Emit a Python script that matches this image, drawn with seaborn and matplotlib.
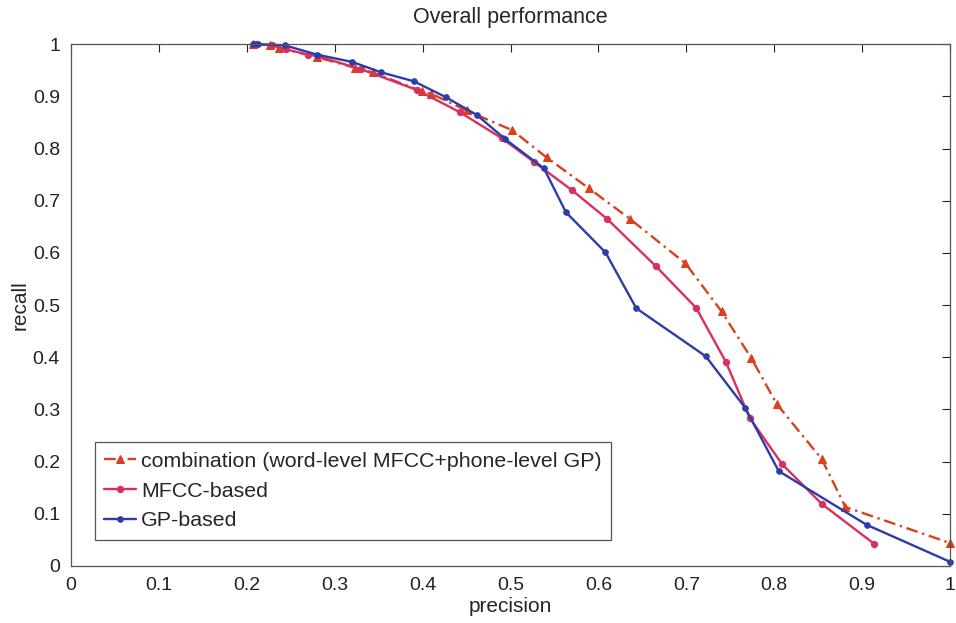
import numpy as np
import pandas as pd
import matplotlib
matplotlib.use("Agg")
import matplotlib.pyplot as plt
import seaborn as sns

# precision / recall
comb_x = [0.207, 0.226, 0.237, 0.280, 0.323, 0.343, 0.399, 0.410, 0.450, 0.502,
          0.541, 0.589, 0.636, 0.699, 0.740, 0.774, 0.803, 0.854, 0.881, 1.0]
comb_y = [1.0, 0.998, 0.993, 0.975, 0.955, 0.946, 0.910, 0.905, 0.873, 0.835,
          0.783, 0.724, 0.665, 0.580, 0.488, 0.398, 0.310, 0.205, 0.113, 0.044]

mfcc_x = [0.210, 0.229, 0.245, 0.270, 0.281, 0.330, 0.394, 0.442, 0.490, 0.527,
          0.570, 0.610, 0.665, 0.711, 0.745, 0.772, 0.809, 0.854, 0.914]
mfcc_y = [1.0, 0.998, 0.990, 0.980, 0.977, 0.952, 0.912, 0.870, 0.820, 0.774,
          0.720, 0.665, 0.575, 0.495, 0.391, 0.284, 0.195, 0.119, 0.042]

gp_x = [0.207, 0.213, 0.243, 0.280, 0.320, 0.353, 0.390, 0.427, 0.462, 0.494,
        0.538, 0.563, 0.608, 0.643, 0.722, 0.767, 0.805, 0.905, 1.0]
gp_y = [1.0, 1.0, 0.998, 0.980, 0.966, 0.946, 0.929, 0.898, 0.864, 0.818,
        0.762, 0.678, 0.601, 0.494, 0.402, 0.303, 0.182, 0.079, 0.008]

labels = ["combination (word-level MFCC+phone-level GP)", "MFCC-based", "GP-based"]
ticks = [0, 0.1, 0.2, 0.3, 0.4, 0.5, 0.6, 0.7, 0.8, 0.9, 1]
tick_labels = ["0", "0.1", "0.2", "0.3", "0.4", "0.5", "0.6", "0.7", "0.8", "0.9", "1"]

sns.set_style("white")
plt.rcParams['font.family'] = ['Liberation Sans', 'DejaVu Sans']

fig = plt.figure(figsize=(9.56, 6.23), dpi=100)
ax = fig.add_axes([0.0743, 0.0915, 0.9195, 0.8375])

df_comb = pd.DataFrame({"precision": comb_x, "recall": comb_y})
df_mfcc = pd.DataFrame({"precision": mfcc_x, "recall": mfcc_y})
df_gp = pd.DataFrame({"precision": gp_x, "recall": gp_y})

sns.lineplot(data=df_comb, x="precision", y="recall", sort=False, ax=ax,
             color="#d8401e", linestyle=(0, (5, 2, 1, 2)), linewidth=1.7,
             marker="^", markersize=6, markeredgecolor="#d8401e", label=labels[0],
             clip_on=False)
sns.lineplot(data=df_mfcc, x="precision", y="recall", sort=False, ax=ax,
             color="#d93060", linewidth=1.7, marker="o", markersize=4.5,
             markeredgecolor="#d93060", label=labels[1], clip_on=False)
sns.lineplot(data=df_gp, x="precision", y="recall", sort=False, ax=ax,
             color="#2c3ca8", linewidth=1.7, marker="o", markersize=4,
             markeredgecolor="#2c3ca8", label=labels[2], clip_on=False)

ax.set_xlim(0, 1)
ax.set_ylim(0, 1)
ax.set_xticks(ticks)
ax.set_xticklabels(tick_labels)
ax.set_yticks(ticks)
ax.set_yticklabels(tick_labels)
ax.tick_params(direction="in", top=True, right=True, length=6, width=0.8,
               labelsize=14, colors="#222222", pad=8)
for s in ax.spines.values():
    s.set_color("#555555")
    s.set_linewidth(0.9)

ax.set_title("Overall performance", fontsize=15.5, pad=15)
ax.set_xlabel("precision", fontsize=15, labelpad=2)
ax.set_ylabel("recall", fontsize=15, labelpad=2)

leg = ax.legend(loc="lower left", bbox_to_anchor=(0.027, 0.05), borderaxespad=0,
                fontsize=15.4, handlelength=1.5, handletextpad=0.2, borderpad=0.45,
                labelspacing=0.5, frameon=True, fancybox=False, framealpha=1)
leg.get_frame().set_edgecolor("#555555")
leg.get_frame().set_linewidth(0.9)

fig.savefig("out.png", dpi=100)
